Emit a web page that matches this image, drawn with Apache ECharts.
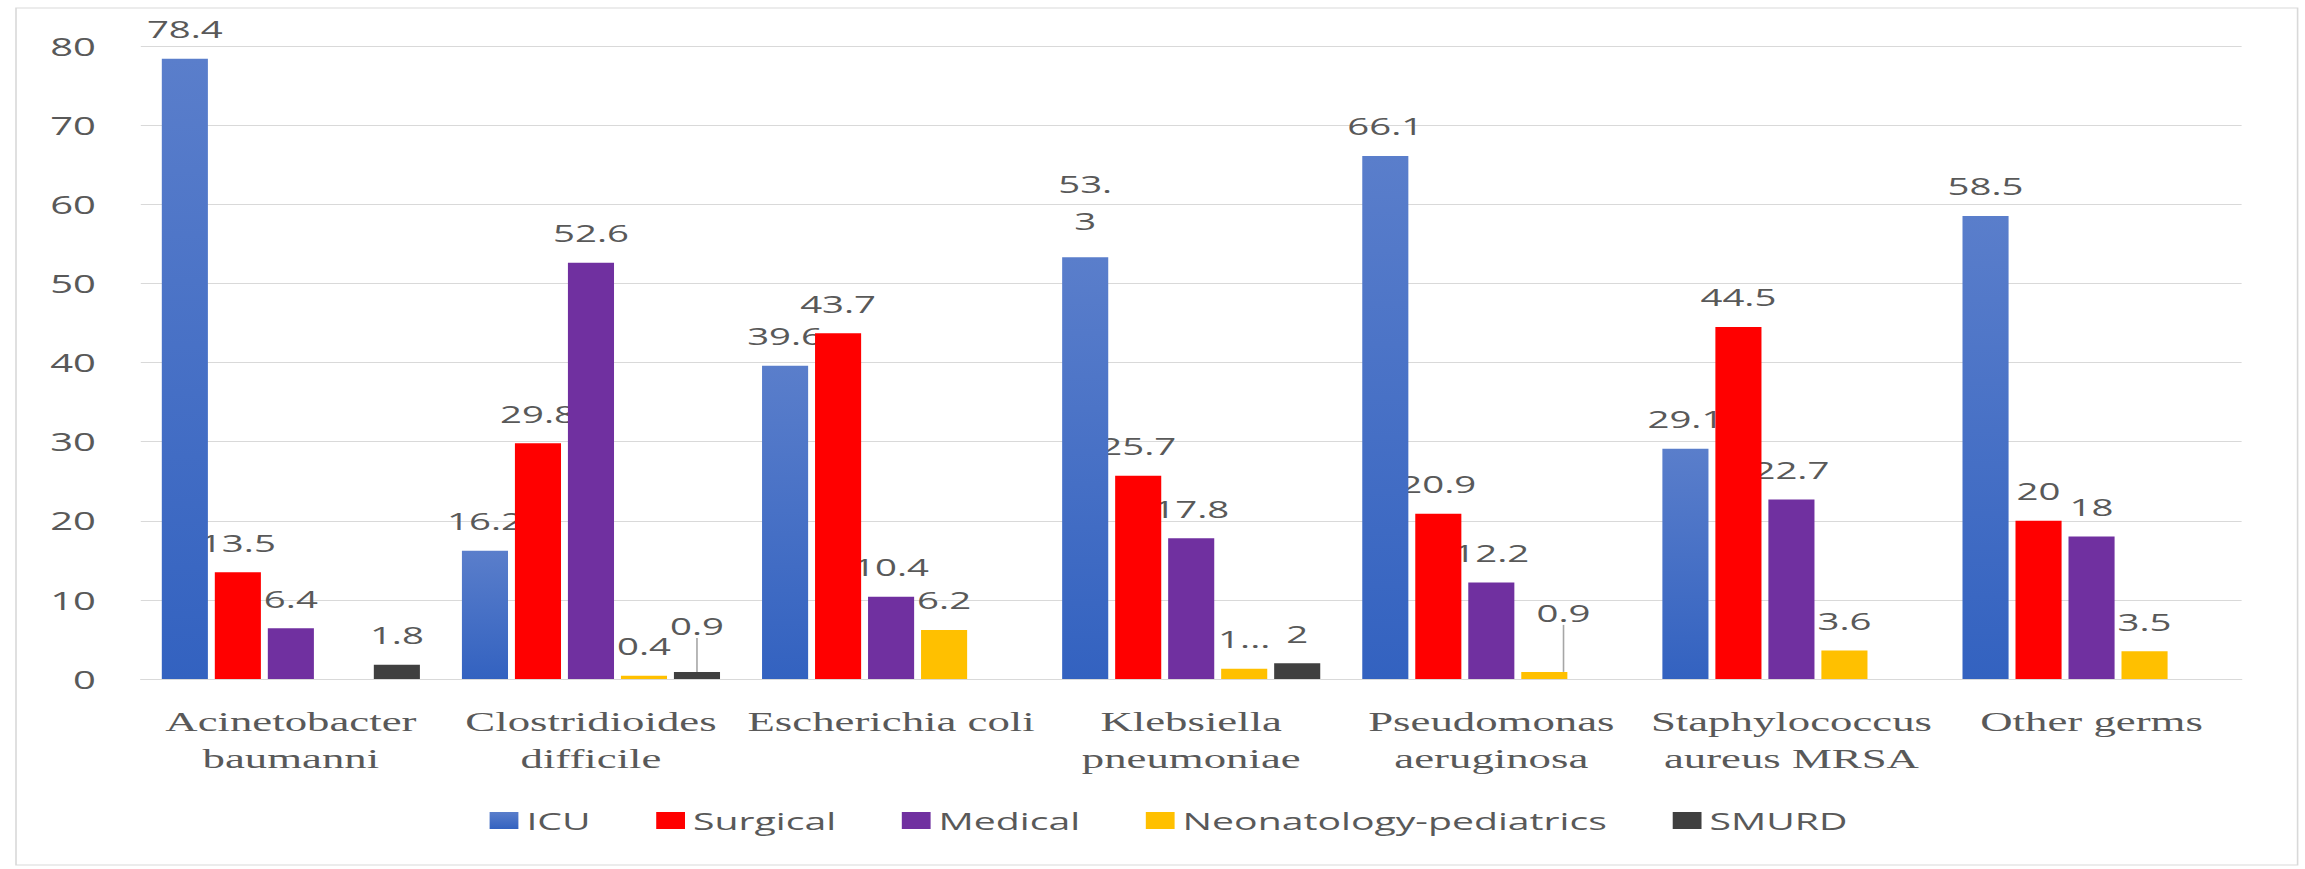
<!DOCTYPE html>
<html>
<head>
<meta charset="utf-8">
<script src="https://cdn.jsdelivr.net/npm/echarts@6/dist/echarts.min.js"></script>
<style>
  html, body { margin: 0; padding: 0; background: #ffffff; overflow: hidden; }
  /* the chart is laid out narrow and widened horizontally */
  #chart { width: 1441px; height: 869px; transform: scaleX(1.6); transform-origin: 0 0; }
</style>
</head>
<body>
<div id="chart"></div>
<script>
// Germs (categories) and ward shares (%)
const categories = [
  'Acinetobacter\nbaumanni',
  'Clostridioides\ndifficile',
  'Escherichia coli',
  'Klebsiella\npneumoniae',
  'Pseudomonas\naeruginosa',
  'Staphylococcus\naureus MRSA',
  'Other germs'
];
const seriesNames = ['ICU', 'Surgical', 'Medical', 'Neonatology-pediatrics', 'SMURD'];
const icu         = [78.4, 16.2, 39.6, 53.3, 66.1, 29.1, 58.5];
const surgical    = [13.5, 29.8, 43.7, 25.7, 20.9, 44.5, 20];
const medical     = [6.4, 52.6, 10.4, 17.8, 12.2, 22.7, 18];
const neonatology = [null, 0.4, 6.2, 1.3, 0.9, 3.6, 3.5];
const smurd       = [1.8, 0.9, null, 2, null, null, null];

// value axis ticks
const yMin = 0;
const yMax = 80;
const yStep = 10;

const values = [icu, surgical, medical, neonatology, smurd];
const colors = [
  { type: 'linear', x: 0, y: 0, x2: 0, y2: 1,
    colorStops: [{ offset: 0, color: '#5a7ecb' }, { offset: 1, color: '#3362c0' }] },
  '#ff0000',
  '#7030a0',
  '#ffc000',
  '#404040'
];

const labelFont = { fontFamily: '"Open Sans", "Noto Sans", sans-serif', fontSize: 24, color: '#595959' };

// labels that were nudged away from their bar, with a leader line: [series, category, dx, dy]
const movedLabels = [[4, 1, 0, -16], [3, 4, 12, -29]];
function moveFor(s, c) {
  return movedLabels.find(m => m[0] === s && m[1] === c);
}

function labelData(s) {
  return values[s].map((v, c) => {
    const item = { value: v };
    if (s === 0 && c === 3) {
      // long label wrapped after the decimal point
      item.label = { formatter: p => String(p.value).replace('.', '.\n'), lineHeight: 37 };
    }
    if (s === 3 && c === 3) {
      // clipped label
      item.label = { formatter: p => Math.floor(p.value) + '...' };
    }
    if (moveFor(s, c)) {
      item.labelLine = { show: true, lineStyle: { color: '#a6a6a6', width: 1 } };
    }
    return item;
  });
}

const barSeries = seriesNames.map((name, s) => ({
  name: name,
  type: 'bar',
  xAxisIndex: 0,
  z: 3,
  barGap: '15%',
  barCategoryGap: '14%',
  itemStyle: { color: colors[s] },
  data: values[s]
}));

// value labels sit underneath every bar
const labelSeries = seriesNames.map((name, s) => ({
  name: name + ' labels',
  type: 'bar',
  xAxisIndex: 1,
  z: 1,
  silent: true,
  barGap: '15%',
  barCategoryGap: '14%',
  itemStyle: { color: 'rgba(0,0,0,0)' },
  label: Object.assign({ show: true, position: 'top', distance: 18 }, labelFont),
  labelLayout: p => {
    const m = moveFor(s, p.dataIndex);
    return m ? { dx: m[2], dy: m[3] } : {};
  },
  data: labelData(s)
}));

const chart = echarts.init(document.getElementById('chart'), null, { renderer: 'svg' });
chart.setOption({
  animation: false,
  backgroundColor: '#ffffff',
  graphic: [{
    type: 'rect',
    shape: { x: 10, y: 8, width: 1426, height: 857 },
    style: { fill: 'none', stroke: '#d9d9d9', lineWidth: 1 },
    silent: true
  }],
  grid: { left: 88, right: 40, top: 46, bottom: 190 },
  legend: {
    data: seriesNames,
    left: 301,
    top: 803,
    icon: 'rect',
    itemWidth: 18,
    itemHeight: 17,
    itemGap: 41,
    textStyle: { fontFamily: '"Open Sans", "Noto Sans", sans-serif', fontSize: 24.5, color: '#595959' }
  },
  xAxis: [{
    type: 'category',
    data: categories,
    axisLine: { show: true, lineStyle: { color: '#d9d9d9', width: 1 } },
    axisTick: { show: false },
    axisLabel: {
      interval: 0,
      margin: 24,
      fontFamily: '"Liberation Serif", "DejaVu Serif", serif',
      fontSize: 28,
      lineHeight: 37,
      color: '#595959'
    }
  }, {
    type: 'category',
    data: categories,
    show: false
  }],
  yAxis: {
    type: 'value',
    min: yMin,
    max: yMax,
    interval: yStep,
    axisLine: { show: false },
    axisTick: { show: false },
    splitLine: { lineStyle: { color: '#d9d9d9', width: 1 } },
    axisLabel: {
      margin: 28,
      fontFamily: '"Open Sans", "Noto Sans", sans-serif',
      fontSize: 25,
      color: '#595959'
    }
  },
  series: barSeries.concat(labelSeries)
});
</script>
</body>
</html>
